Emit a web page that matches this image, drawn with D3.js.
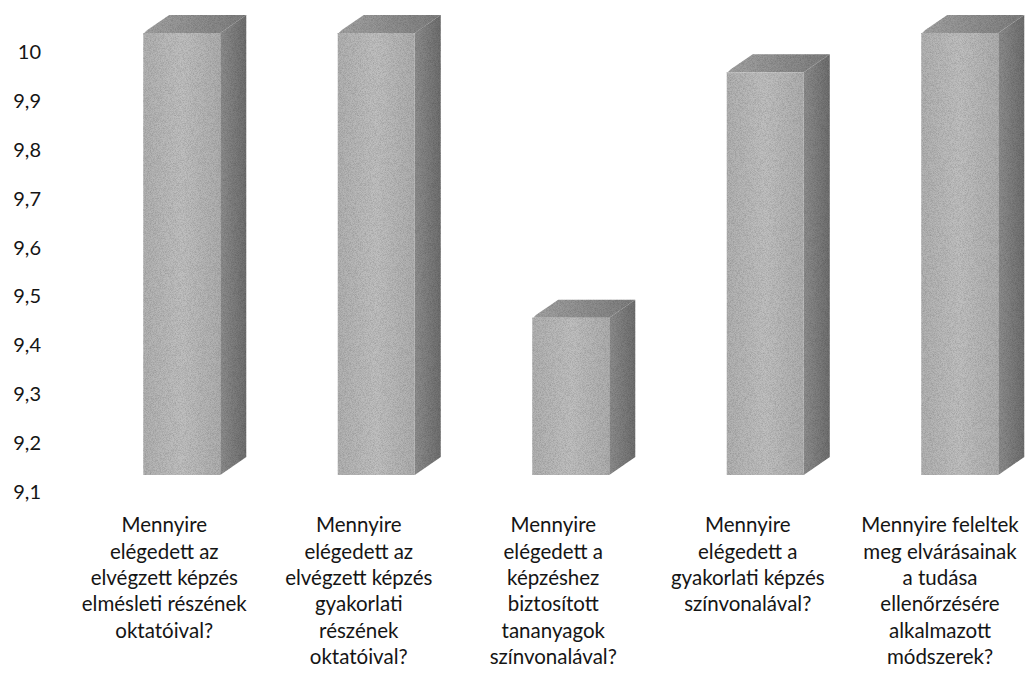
<!DOCTYPE html>
<html>
<head>
<meta charset="utf-8">
<script src="https://cdn.jsdelivr.net/npm/d3@7"></script>
<style>
body { margin: 0; background: #fff; }
text { font-family: Lato, "Open Sans", sans-serif; fill: #151515; }
</style>
</head>
<body>
<script>
// Width and height
var w = 1032;
var h = 677;

var categories = [
  ["Mennyire", "elégedett az", "elvégzett képzés", "elmésleti részének", "oktatóival?"],
  ["Mennyire", "elégedett az", "elvégzett képzés", "gyakorlati", "részének", "oktatóival?"],
  ["Mennyire", "elégedett a", "képzéshez", "biztosított", "tananyagok", "színvonalával?"],
  ["Mennyire", "elégedett a", "gyakorlati képzés", "színvonalával?"],
  ["Mennyire feleltek", "meg elvárásainak", "a tudása", "ellenőrzésére", "alkalmazott", "módszerek?"]
];
var values = [10, 10, 9.42, 9.92, 10];
var ticks = [9.1, 9.2, 9.3, 9.4, 9.5, 9.6, 9.7, 9.8, 9.9, 10];

var barW = 77, depthX = 26, depthY = 18;

var x = d3.scaleBand()
          .domain(d3.range(categories.length))
          .range([67, 67 + 194.5 * categories.length]);

// front face of the bars
var y = d3.scaleLinear().domain([9.1, 10]).range([475, 33]);
// value labels sit on the projected wall
var yAxis = d3.scaleLinear().domain([9.1, 10]).range([492, 52]);

//Create SVG element
var svg = d3.select("body")
            .append("svg")
            .attr("width", w)
            .attr("height", h);

var defs = svg.append("defs");
function grad(id, stops, x2, y2) {
  var g = defs.append("linearGradient").attr("id", id)
      .attr("x1", 0).attr("y1", 0).attr("x2", x2).attr("y2", y2);
  stops.forEach(function(s) {
    g.append("stop").attr("offset", s[0]).attr("stop-color", s[1]);
  });
}
grad("front", [[0, "#b2b2b2"], [0.5, "#c0c0c0"], [1, "#afafaf"]], 1, 0);
grad("side", [[0, "#8e8e8e"], [1, "#6f6f6f"]], 1, 0);
grad("top", [[0, "#a4a4a4"], [1, "#7e7e7e"]], 1, 0);

// grainy texture like the scanned print
var f = defs.append("filter").attr("id", "grain")
            .attr("x", 0).attr("y", 0).attr("width", 1).attr("height", 1);
f.append("feTurbulence").attr("type", "fractalNoise")
 .attr("baseFrequency", 1.4).attr("numOctaves", 1).attr("seed", 3).attr("result", "n");
f.append("feColorMatrix").attr("in", "n").attr("type", "matrix")
 .attr("values", "0 0 0 0 0  0 0 0 0 0  0 0 0 0 0  0 0 0 0.7 -0.25").attr("result", "dark");
f.append("feComposite").attr("in", "dark").attr("in2", "SourceGraphic").attr("operator", "in").attr("result", "d2");
f.append("feMerge").call(function(m) {
  m.append("feMergeNode").attr("in", "SourceGraphic");
  m.append("feMergeNode").attr("in", "d2");
});

var bars = svg.selectAll("g.bar")
   .data(values)
   .enter()
   .append("g")
   .attr("class", "bar")
   .attr("filter", "url(#grain)");

function x0(i) { return x(i) + x.bandwidth() / 2 - 21; }

bars.append("path")
   .attr("fill", "url(#side)")
   .attr("d", function(d, i) {
     var l = x0(i) + barW, t = y(d), b = y(9.1);
     return "M" + l + "," + t + "L" + (l + depthX) + "," + (t - depthY) +
            "L" + (l + depthX) + "," + (b - depthY) + "L" + l + "," + b + "Z";
   });
bars.append("path")
   .attr("fill", "url(#top)")
   .attr("d", function(d, i) {
     var l = x0(i), t = y(d);
     return "M" + l + "," + (t + 1) + "L" + (l + 4) + "," + (t - 3) +
            "L" + (l + depthX) + "," + (t - depthY) +
            "L" + (l + barW + depthX) + "," + (t - depthY) +
            "L" + (l + barW) + "," + t + "L" + l + "," + t + "Z";
   });
bars.append("rect")
   .attr("fill", "url(#front)")
   .attr("x", function(d, i) { return x0(i); })
   .attr("y", function(d) { return y(d); })
   .attr("width", barW)
   .attr("height", function(d) { return y(9.1) - y(d); });

// value axis labels
svg.selectAll("text.tick")
   .data(ticks)
   .enter()
   .append("text")
   .attr("class", "tick")
   .attr("x", 41)
   .attr("y", function(d) { return yAxis(d); })
   .attr("dy", "0.35em")
   .attr("text-anchor", "end")
   .attr("font-size", "20px")
   .text(function(d) { return String(Math.round(d * 10) / 10).replace(".", ","); });

// category labels
var lab = svg.selectAll("text.cat")
   .data(categories)
   .enter()
   .append("text")
   .attr("class", "cat")
   .attr("text-anchor", "middle")
   .attr("font-size", "20.5px")
   .attr("transform", function(d, i) {
     var cx = x(i) + x.bandwidth() / 2;
     if (i === categories.length - 1) cx = 940;
     return "translate(" + cx + ",0)";
   });
lab.selectAll("tspan")
   .data(function(d) { return d; })
   .enter()
   .append("tspan")
   .attr("x", 0)
   .attr("y", function(d, j) { return 525 + j * 26.4; })
   .attr("dy", "0.35em")
   .text(function(d) { return d; });
</script>
</body>
</html>
